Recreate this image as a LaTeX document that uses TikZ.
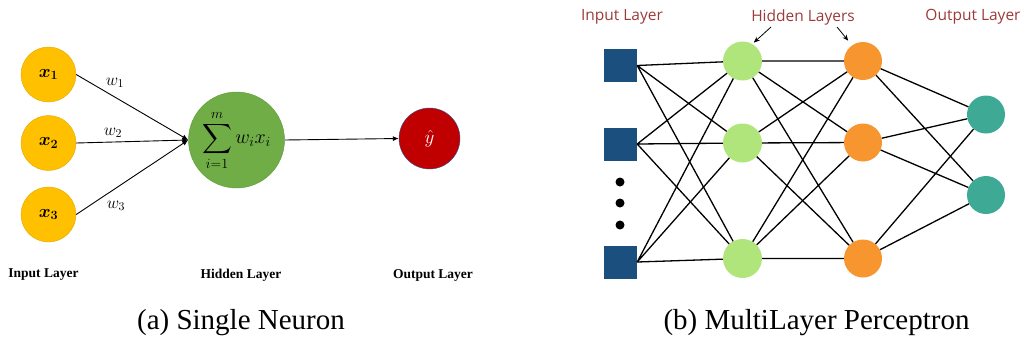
\RequirePackage{fix-cm}
\documentclass[tikz,border=0pt]{standalone}
\usepackage{amsmath,bm}
\usepackage{fontspec}
\setmainfont{Liberation Serif}
\newfontfamily\mlpfont{Open Sans}
\usetikzlibrary{arrows.meta}

\definecolor{inyellow}{HTML}{FFC000}
\definecolor{inyellowline}{HTML}{E3A600}
\definecolor{sumgreen}{HTML}{70AD47}
\definecolor{sumgreenline}{HTML}{5E9A3A}
\definecolor{outred}{HTML}{C00000}
\definecolor{outredline}{HTML}{2F5597}
\definecolor{sqblue}{HTML}{1B4F7E}
\definecolor{hidlime}{HTML}{B0E57C}
\definecolor{hidorange}{HTML}{F7962F}
\definecolor{outteal}{HTML}{3EAA96}
\definecolor{titlered}{HTML}{9C3B3B}

\tikzset{
  inneuron/.style={circle, fill=inyellow, draw=inyellowline, minimum size=55pt, inner sep=0pt,
    font=\fontsize{18}{20}\selectfont},
  sumneuron/.style={circle, fill=sumgreen, draw=sumgreenline, minimum size=96pt, inner sep=0pt,
    font=\fontsize{20}{22}\selectfont},
  outneuron/.style={circle, fill=outred, draw=outredline, minimum size=61pt, inner sep=0pt,
    text=white, font=\fontsize{19}{21}\selectfont},
  wire/.style={draw=black, line width=0.9pt, -{Latex[length=6pt,width=5pt]}},
  weightlabel/.style={font=\fontsize{17}{19}\selectfont},
  layerlabel/.style={font=\fontsize{13.5}{15}\selectfont\bfseries},
  captionlabel/.style={font=\fontsize{29}{32}\selectfont},
  inputunit/.style={rectangle, fill=sqblue, minimum size=33pt, inner sep=0pt},
  limeunit/.style={circle, fill=hidlime, minimum size=39pt, inner sep=0pt},
  orangeunit/.style={circle, fill=hidorange, minimum size=38pt, inner sep=0pt},
  tealunit/.style={circle, fill=outteal, minimum size=38pt, inner sep=0pt},
  dotmark/.style={circle, fill=black, minimum size=9pt, inner sep=0pt},
  link/.style={draw=black, line width=1.3pt},
  mlplabel/.style={text=titlered, font=\mlpfont\fontsize{15.5}{17}\selectfont},
  pointer/.style={draw=black, line width=0.8pt, -{Stealth[length=6pt,width=5pt]}}
}

\begin{document}
\begin{tikzpicture}[x=1pt, y=-1pt]
  \useasboundingbox (0,0) rectangle (1022,341);

  % Left side (single neuron)
  \node[inneuron] (x1) at (48.5,74.5) {$\bm{x_1}$};
  \node[inneuron] (x2) at (48.5,143) {$\bm{x_2}$};
  \node[inneuron] (x3) at (48.5,214.5) {$\bm{x_3}$};
  \node[sumneuron] (sum) at (236.5,140) {$\displaystyle\sum_{i=1}^{m} w_i x_i$};
  \node[outneuron] (yhat) at (429.5,138.5) {$\hat{y}$};

  % Weighted inputs
  \draw[wire] (x1.east) -- (sum.west);
  \draw[wire] (x2.east) -- (sum.west);
  \draw[wire] (x3.east) -- (sum.west);
  \draw[wire] (sum.east) -- (yhat.west);

  % Weights
  \node[weightlabel] (w1) at (115,83) {$w_1$};
  \node[weightlabel] (w2) at (113,133) {$w_2$};
  \node[weightlabel] (w3) at (116,206) {$w_3$};

  % Layer names
  \node[layerlabel] (lin) at (43.5,275) {Input Layer};
  \node[layerlabel] (lhid) at (241,275) {Hidden Layer};
  \node[layerlabel] (lout) at (433,275) {Output Layer};

  % Right side (multilayer perceptron)
  \node[inputunit] (i1) at (620.5,65.5) {};
  \node[inputunit] (i2) at (620.5,144) {};
  \node[inputunit] (i3) at (620.5,262) {};
  \node[dotmark] (d1) at (620,182) {};
  \node[dotmark] (d2) at (620,203) {};
  \node[dotmark] (d3) at (620,225) {};

  \node[limeunit] (h1a) at (742.5,61) {};
  \node[limeunit] (h1b) at (742.5,143) {};
  \node[limeunit] (h1c) at (742.5,258.5) {};

  \node[orangeunit] (h2a) at (863,61) {};
  \node[orangeunit] (h2b) at (863,142.5) {};
  \node[orangeunit] (h2c) at (863,258.5) {};

  \node[tealunit] (o1) at (986,114.5) {};
  \node[tealunit] (o2) at (986,195) {};

  % Connections
  \draw[link] (i1.east) -- (h1a) (i1.east) -- (h1b) (i1.east) -- (h1c);
  \draw[link] (i2.east) -- (h1a) (i2.east) -- (h1b) (i2.east) -- (h1c);
  \draw[link] (i3.east) -- (h1a) (i3.east) -- (h1b) (i3.east) -- (h1c);
  \draw[link] (h1a) -- (h2a) (h1a) -- (h2b) (h1a) -- (h2c);
  \draw[link] (h1b) -- (h2a) (h1b) -- (h2b) (h1b) -- (h2c);
  \draw[link] (h1c) -- (h2a) (h1c) -- (h2b) (h1c) -- (h2c);
  \draw[link] (h2a) -- (o1) (h2a) -- (o2);
  \draw[link] (h2b) -- (o1) (h2b) -- (o2);
  \draw[link] (h2c) -- (o1) (h2c) -- (o2);

  % Titles
  \node[mlplabel] (tin) at (622,17) {Input Layer};
  \node[mlplabel] (thid) at (803,17) {Hidden Layers};
  \node[mlplabel] (tout) at (973,17) {Output Layer};
  \coordinate (p1) at (771,27);
  \coordinate (p2) at (837,27);
  \draw[pointer, shorten >=2pt] (p1) -- (h1a.60);
  \draw[pointer, shorten >=6pt] (p2) -- (h2a.125);

  % Captions
  \node[captionlabel] (capa) at (241,323) {(a) Single Neuron};
  \node[captionlabel] (capb) at (816.5,323) {(b) MultiLayer Perceptron};
\end{tikzpicture}
\end{document}
